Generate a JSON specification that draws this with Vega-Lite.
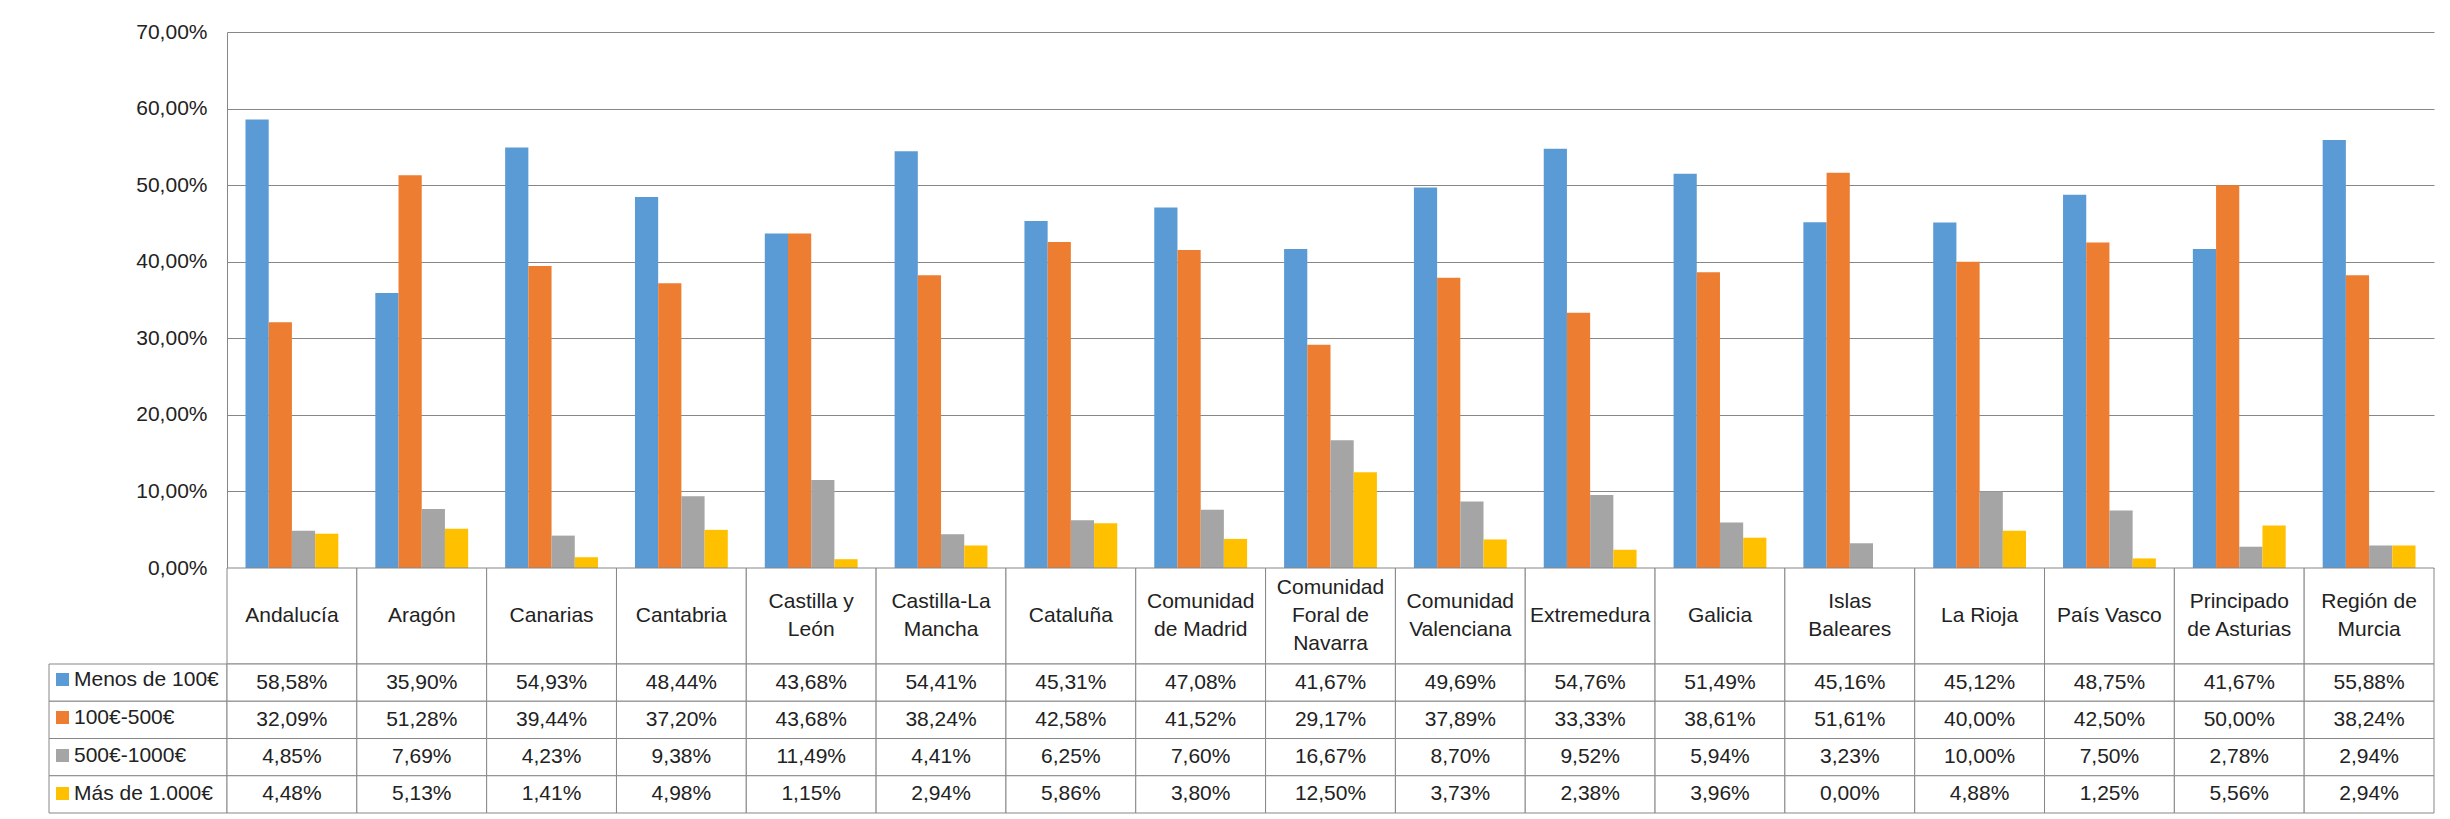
{
  "$schema": "https://vega.github.io/schema/vega-lite/v6.json",
  "padding": {"left": 48, "top": 21, "right": 17, "bottom": 6},
  "background": "white",
  "config": {
    "locale": {"number": {"decimal": ",", "thousands": ".", "grouping": [3], "currency": ["", " €"]}},
    "view": {"stroke": null},
    "font": "Liberation Sans",
    "text": {"font": "Liberation Sans", "fontSize": 21, "color": "#222222"},
    "axis": {"labelFont": "Liberation Sans", "labelFontSize": 21, "labelColor": "#222222"},
    "legend": {"labelFont": "Liberation Sans", "labelFontSize": 21, "labelColor": "#222222"}
  },
  "datasets": {
    "cells": [
      {"region": "Andalucía", "series": "Menos de 100€", "value": 0.5858},
      {"region": "Andalucía", "series": "100€-500€", "value": 0.3209},
      {"region": "Andalucía", "series": "500€-1000€", "value": 0.0485},
      {"region": "Andalucía", "series": "Más de 1.000€", "value": 0.0448},
      {"region": "Aragón", "series": "Menos de 100€", "value": 0.3590},
      {"region": "Aragón", "series": "100€-500€", "value": 0.5128},
      {"region": "Aragón", "series": "500€-1000€", "value": 0.0769},
      {"region": "Aragón", "series": "Más de 1.000€", "value": 0.0513},
      {"region": "Canarias", "series": "Menos de 100€", "value": 0.5493},
      {"region": "Canarias", "series": "100€-500€", "value": 0.3944},
      {"region": "Canarias", "series": "500€-1000€", "value": 0.0423},
      {"region": "Canarias", "series": "Más de 1.000€", "value": 0.0141},
      {"region": "Cantabria", "series": "Menos de 100€", "value": 0.4844},
      {"region": "Cantabria", "series": "100€-500€", "value": 0.3720},
      {"region": "Cantabria", "series": "500€-1000€", "value": 0.0938},
      {"region": "Cantabria", "series": "Más de 1.000€", "value": 0.0498},
      {"region": "Castilla y León", "series": "Menos de 100€", "value": 0.4368},
      {"region": "Castilla y León", "series": "100€-500€", "value": 0.4368},
      {"region": "Castilla y León", "series": "500€-1000€", "value": 0.1149},
      {"region": "Castilla y León", "series": "Más de 1.000€", "value": 0.0115},
      {"region": "Castilla-La Mancha", "series": "Menos de 100€", "value": 0.5441},
      {"region": "Castilla-La Mancha", "series": "100€-500€", "value": 0.3824},
      {"region": "Castilla-La Mancha", "series": "500€-1000€", "value": 0.0441},
      {"region": "Castilla-La Mancha", "series": "Más de 1.000€", "value": 0.0294},
      {"region": "Cataluña", "series": "Menos de 100€", "value": 0.4531},
      {"region": "Cataluña", "series": "100€-500€", "value": 0.4258},
      {"region": "Cataluña", "series": "500€-1000€", "value": 0.0625},
      {"region": "Cataluña", "series": "Más de 1.000€", "value": 0.0586},
      {"region": "Comunidad de Madrid", "series": "Menos de 100€", "value": 0.4708},
      {"region": "Comunidad de Madrid", "series": "100€-500€", "value": 0.4152},
      {"region": "Comunidad de Madrid", "series": "500€-1000€", "value": 0.0760},
      {"region": "Comunidad de Madrid", "series": "Más de 1.000€", "value": 0.0380},
      {"region": "Comunidad Foral de Navarra", "series": "Menos de 100€", "value": 0.4167},
      {"region": "Comunidad Foral de Navarra", "series": "100€-500€", "value": 0.2917},
      {"region": "Comunidad Foral de Navarra", "series": "500€-1000€", "value": 0.1667},
      {"region": "Comunidad Foral de Navarra", "series": "Más de 1.000€", "value": 0.1250},
      {"region": "Comunidad Valenciana", "series": "Menos de 100€", "value": 0.4969},
      {"region": "Comunidad Valenciana", "series": "100€-500€", "value": 0.3789},
      {"region": "Comunidad Valenciana", "series": "500€-1000€", "value": 0.0870},
      {"region": "Comunidad Valenciana", "series": "Más de 1.000€", "value": 0.0373},
      {"region": "Extremedura", "series": "Menos de 100€", "value": 0.5476},
      {"region": "Extremedura", "series": "100€-500€", "value": 0.3333},
      {"region": "Extremedura", "series": "500€-1000€", "value": 0.0952},
      {"region": "Extremedura", "series": "Más de 1.000€", "value": 0.0238},
      {"region": "Galicia", "series": "Menos de 100€", "value": 0.5149},
      {"region": "Galicia", "series": "100€-500€", "value": 0.3861},
      {"region": "Galicia", "series": "500€-1000€", "value": 0.0594},
      {"region": "Galicia", "series": "Más de 1.000€", "value": 0.0396},
      {"region": "Islas Baleares", "series": "Menos de 100€", "value": 0.4516},
      {"region": "Islas Baleares", "series": "100€-500€", "value": 0.5161},
      {"region": "Islas Baleares", "series": "500€-1000€", "value": 0.0323},
      {"region": "Islas Baleares", "series": "Más de 1.000€", "value": 0.0},
      {"region": "La Rioja", "series": "Menos de 100€", "value": 0.4512},
      {"region": "La Rioja", "series": "100€-500€", "value": 0.4000},
      {"region": "La Rioja", "series": "500€-1000€", "value": 0.1000},
      {"region": "La Rioja", "series": "Más de 1.000€", "value": 0.0488},
      {"region": "País Vasco", "series": "Menos de 100€", "value": 0.4875},
      {"region": "País Vasco", "series": "100€-500€", "value": 0.4250},
      {"region": "País Vasco", "series": "500€-1000€", "value": 0.0750},
      {"region": "País Vasco", "series": "Más de 1.000€", "value": 0.0125},
      {"region": "Principado de Asturias", "series": "Menos de 100€", "value": 0.4167},
      {"region": "Principado de Asturias", "series": "100€-500€", "value": 0.5000},
      {"region": "Principado de Asturias", "series": "500€-1000€", "value": 0.0278},
      {"region": "Principado de Asturias", "series": "Más de 1.000€", "value": 0.0556},
      {"region": "Región de Murcia", "series": "Menos de 100€", "value": 0.5588},
      {"region": "Región de Murcia", "series": "100€-500€", "value": 0.3824},
      {"region": "Región de Murcia", "series": "500€-1000€", "value": 0.0294},
      {"region": "Región de Murcia", "series": "Más de 1.000€", "value": 0.0294}
    ],
    "regions": [
      {"region": "Andalucía", "header": "Andalucía"},
      {"region": "Aragón", "header": "Aragón"},
      {"region": "Canarias", "header": "Canarias"},
      {"region": "Cantabria", "header": "Cantabria"},
      {"region": "Castilla y León", "header": "Castilla y\nLeón"},
      {"region": "Castilla-La Mancha", "header": "Castilla-La\nMancha"},
      {"region": "Cataluña", "header": "Cataluña"},
      {"region": "Comunidad de Madrid", "header": "Comunidad\nde Madrid"},
      {"region": "Comunidad Foral de Navarra", "header": "Comunidad\nForal de\nNavarra"},
      {"region": "Comunidad Valenciana", "header": "Comunidad\nValenciana"},
      {"region": "Extremedura", "header": "Extremedura"},
      {"region": "Galicia", "header": "Galicia"},
      {"region": "Islas Baleares", "header": "Islas\nBaleares"},
      {"region": "La Rioja", "header": "La Rioja"},
      {"region": "País Vasco", "header": "País Vasco"},
      {"region": "Principado de Asturias", "header": "Principado\nde Asturias"},
      {"region": "Región de Murcia", "header": "Región de\nMurcia"}
    ],
    "series": [
      {"series": "Menos de 100€"},
      {"series": "100€-500€"},
      {"series": "500€-1000€"},
      {"series": "Más de 1.000€"}
    ]
  },
  "columns": 2,
  "spacing": 0,
  "bounds": "flush",
  "concat": [
    {
      "width": 178, "height": 536,
      "data": {"name": "series"},
      "mark": {"type": "rect", "opacity": 0},
      "encoding": {}
    },
    {
      "width": 2207, "height": 536,
      "data": {"name": "cells"},
      "mark": {"type": "bar"},
      "encoding": {
        "x": {"field": "region", "type": "nominal", "sort": null, "scale": {"paddingInner": 0.285, "paddingOuter": 0.1425}, "axis": null},
        "xOffset": {"field": "series", "type": "nominal", "sort": null},
        "y": {"field": "value", "type": "quantitative", "scale": {"domain": [0, 0.7], "nice": false},
          "axis": {"values": [0, 0.1, 0.2, 0.3, 0.4, 0.5, 0.6, 0.7], "format": ".2%", "grid": true, "gridColor": "#878787", "gridWidth": 1, "domainColor": "#878787", "ticks": false, "labelPadding": 20, "title": null}},
        "color": {"field": "series", "type": "nominal", "sort": null,
          "scale": {"domain": ["Menos de 100€", "100€-500€", "500€-1000€", "Más de 1.000€"], "range": ["#5B9BD5", "#ED7D31", "#A5A5A5", "#FFC000"]},
          "legend": {"orient": "none", "legendX": 3, "legendY": 637, "title": null, "symbolType": "square", "symbolSize": 169, "symbolStrokeWidth": 0, "symbolOpacity": 1, "labelOffset": 1, "rowPadding": 16, "padding": 0}}
      }
    },
    {
      "width": 178, "height": 96,
      "data": {"name": "series"},
      "mark": {"type": "rect", "opacity": 0},
      "encoding": {}
    },
    {
      "width": 2207, "height": 96,
      "data": {"name": "regions"},
      "encoding": {
        "x": {"field": "region", "type": "nominal", "sort": null, "scale": {"paddingInner": 0, "paddingOuter": 0}, "axis": null}
      },
      "layer": [
        {"mark": {"type": "rect", "fill": "white", "stroke": "#878787", "strokeWidth": 1}},
        {"transform": [{"filter": "length(split(datum.header, '\\n')) == 1"}],
          "mark": {"type": "text", "lineBreak": "\n", "lineHeight": 28, "baseline": "middle", "align": "center"},
          "encoding": {"text": {"field": "header", "type": "nominal"}}},
        {"transform": [{"filter": "length(split(datum.header, '\\n')) == 2"}],
          "mark": {"type": "text", "lineBreak": "\n", "lineHeight": 28, "baseline": "middle", "align": "center", "dy": -14},
          "encoding": {"text": {"field": "header", "type": "nominal"}}},
        {"transform": [{"filter": "length(split(datum.header, '\\n')) == 3"}],
          "mark": {"type": "text", "lineBreak": "\n", "lineHeight": 28, "baseline": "middle", "align": "center", "dy": -28},
          "encoding": {"text": {"field": "header", "type": "nominal"}}}
      ]
    },
    {
      "width": 178, "height": 149,
      "data": {"name": "series"},
      "mark": {"type": "rect", "fill": "white", "stroke": "#878787", "strokeWidth": 1},
      "encoding": {
        "y": {"field": "series", "type": "nominal", "sort": null, "scale": {"paddingInner": 0, "paddingOuter": 0}, "axis": null}
      }
    },
    {
      "width": 2207, "height": 149,
      "data": {"name": "cells"},
      "encoding": {
        "x": {"field": "region", "type": "nominal", "sort": null, "scale": {"paddingInner": 0, "paddingOuter": 0}, "axis": null},
        "y": {"field": "series", "type": "nominal", "sort": null, "scale": {"paddingInner": 0, "paddingOuter": 0}, "axis": null}
      },
      "layer": [
        {"mark": {"type": "rect", "fill": "white", "stroke": "#878787", "strokeWidth": 1}},
        {"mark": {"type": "text", "baseline": "middle", "align": "center"},
          "encoding": {"text": {"field": "value", "type": "quantitative", "format": ".2%"}}}
      ]
    }
  ]
}
